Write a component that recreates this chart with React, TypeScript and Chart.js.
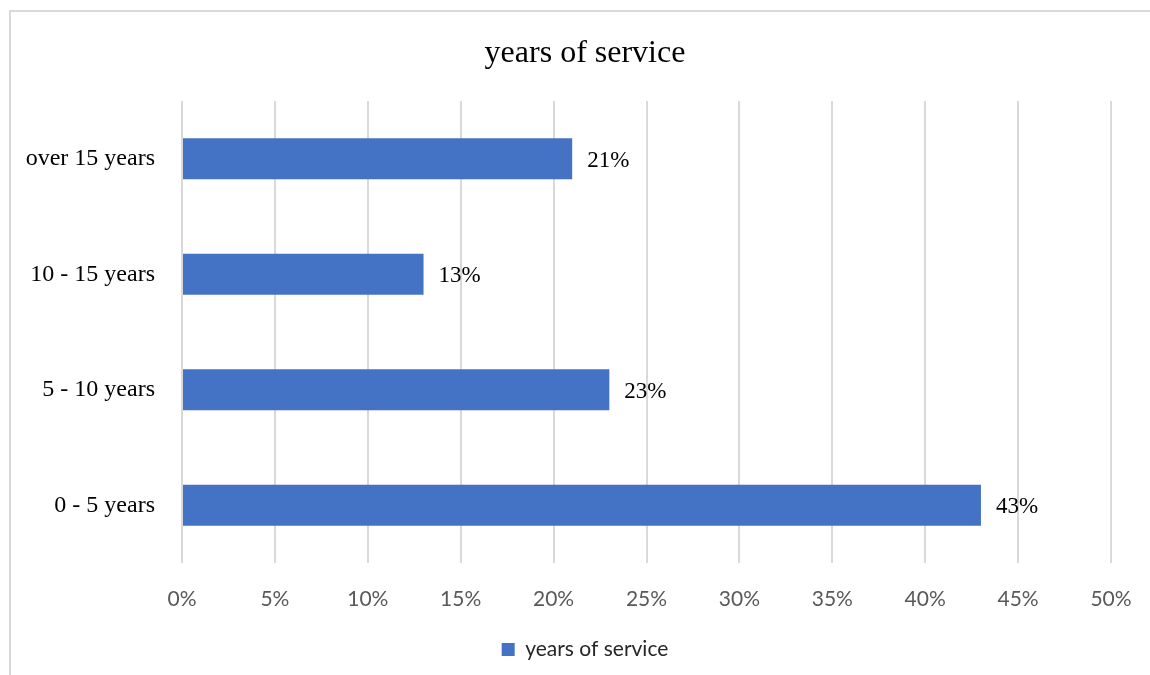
import React, { useEffect, useRef } from "react";
import { Chart, registerables } from "chart.js";

Chart.register(...registerables);

const categories = ["over 15 years", "10 - 15 years", "5 - 10 years", "0 - 5 years"];
const values = [21, 13, 23, 43];
const seriesName = "years of service";
const titleText = "years of service";
const xMin = 0;
const xMax = 50;
const xStep = 5;

const barColor = "#4472C4";
const serif = "'Liberation Serif', 'Times New Roman', serif";
const sans = "Lato, 'Open Sans', sans-serif";

const dataLabelPlugin = {
  id: "dataLabels",
  afterDatasetsDraw(chart: any) {
    const ctx = chart.ctx;
    const meta = chart.getDatasetMeta(0);
    ctx.save();
    ctx.font = `23px ${serif}`;
    ctx.fillStyle = "#000000";
    ctx.textAlign = "left";
    ctx.textBaseline = "middle";
    meta.data.forEach((bar: any, i: number) => {
      const v = chart.data.datasets[0].data[i];
      ctx.fillText(`${v}%`, bar.x + 15, bar.y + 2);
    });
    ctx.restore();
  },
};

export default function App() {
  const canvasRef = useRef<HTMLCanvasElement | null>(null);

  useEffect(() => {
    if (!canvasRef.current) return;
    const chart = new Chart(canvasRef.current, {
      type: "bar",
      data: {
        labels: categories,
        datasets: [
          {
            label: seriesName,
            data: values,
            backgroundColor: barColor,
            borderWidth: 0,
            categoryPercentage: 1,
            barPercentage: 0.357,
          },
        ],
      },
      options: {
        indexAxis: "y",
        responsive: false,
        animation: false,
        devicePixelRatio: 1,
        layout: { padding: { left: 59, right: 39, top: 0, bottom: 5 } },
        scales: {
          x: {
            min: xMin,
            max: xMax,
            border: { display: false },
            grid: { color: "#d9d9d9", lineWidth: 2, drawTicks: false },
            ticks: {
              stepSize: xStep,
              padding: 24,
              maxRotation: 0,
              color: "#595959",
              font: { family: sans, size: 21 },
              callback: (v: any) => `${v}%`,
            },
            afterFit: (s: any) => {
              s.height = 48;
              s.paddingLeft = 0;
              s.paddingRight = 0;
            },
          },
          y: {
            border: { display: false },
            grid: { display: false, drawTicks: false },
            ticks: {
              padding: 27,
              color: "#000000",
              font: { family: serif, size: 24 },
            },
            afterFit: (s: any) => {
              s.width = 123;
              s._computeLabelArea = () => undefined;
            },
          },
        },
        plugins: {
          title: {
            display: true,
            text: titleText,
            color: "#000000",
            font: { family: serif, size: 32, weight: "normal" },
            padding: { top: 34, bottom: 28.6 },
          },
          legend: {
            position: "bottom",
            labels: {
              boxWidth: 13,
              boxHeight: 13,
              padding: 28,
              color: "#262626",
              font: { family: sans, size: 21 },
            },
          },
          tooltip: { enabled: false },
        },
      },
      plugins: [dataLabelPlugin],
    } as any);
    return () => chart.destroy();
  }, []);

  return (
    <div
      style={{
        position: "absolute",
        left: 0,
        top: 0,
        width: 1150,
        height: 675,
        overflow: "hidden",
        background: "#ffffff",
      }}
    >
      <div
        style={{
          position: "absolute",
          left: 9,
          top: 10,
          width: 1200,
          height: 800,
          borderLeft: "2px solid #d9d9d9",
          borderTop: "2px solid #d9d9d9",
        }}
      />
      <canvas
        ref={canvasRef}
        width={1150}
        height={675}
        style={{ position: "absolute", left: 0, top: 0, width: 1150, height: 675 }}
      />
    </div>
  );
}
